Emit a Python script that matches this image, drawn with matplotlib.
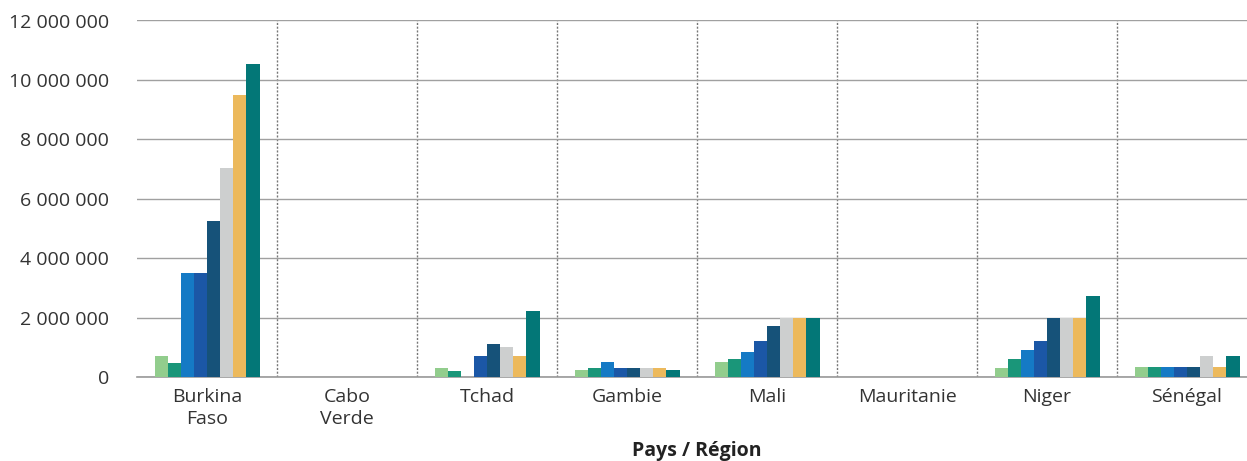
import numpy as np
import matplotlib
matplotlib.use("Agg")
import matplotlib.pyplot as plt
from matplotlib.ticker import FuncFormatter

# Countries / regions on the x axis
pays = ["Burkina\nFaso", "Cabo\nVerde", "Tchad", "Gambie", "Mali",
        "Mauritanie", "Niger", "Sénégal"]

# Eight series per country (0 = no bar)
serie_1 = [720000, 0, 300000, 220000, 500000, 0, 300000, 350000]
serie_2 = [480000, 0, 200000, 300000, 600000, 0, 600000, 350000]
serie_3 = [3500000, 0, 0, 500000, 850000, 0, 920000, 350000]
serie_4 = [3500000, 0, 720000, 300000, 1210000, 0, 1210000, 350000]
serie_5 = [5250000, 0, 1120000, 300000, 1700000, 0, 1980000, 350000]
serie_6 = [7020000, 0, 1000000, 300000, 2000000, 0, 2000000, 720000]
serie_7 = [9500000, 0, 720000, 300000, 1990000, 0, 2000000, 350000]
serie_8 = [10530000, 0, 2230000, 220000, 2000000, 0, 2740000, 720000]

series = [serie_1, serie_2, serie_3, serie_4, serie_5, serie_6, serie_7, serie_8]
couleurs = ["#92CD8D", "#1A9679", "#157AC5", "#1B57A6",
            "#165279", "#CDCFCF", "#ECB95C", "#037777"]

plt.rcParams['font.family'] = ['Open Sans', 'DejaVu Sans']

fig = plt.figure(figsize=(12.47, 4.61), dpi=100)
ax = fig.add_axes([137 / 1247, 1 - 377 / 461, 1120 / 1247, (377 - 20.5) / 461])

x = np.arange(len(pays))
n = len(series)
w = 0.75 / n
for i, (vals, c) in enumerate(zip(series, couleurs)):
    offs = (i - (n - 1) / 2) * w
    ax.bar(x + offs, vals, width=w, color=c, zorder=3, linewidth=0)

ax.set_xlim(-0.5, len(pays) - 0.5)
ax.set_ylim(0, 12000000)
ax.set_yticks(np.arange(0, 12000001, 2000000))
ax.yaxis.set_major_formatter(FuncFormatter(lambda v, p: f"{int(v):,}".replace(",", " ")))

# horizontal grid solid, vertical separators dotted
ax.grid(axis='y', color='#A0A0A0', linewidth=1, zorder=0)
for b in np.arange(0.5, len(pays) - 0.5, 1):
    ax.axvline(b, color='#777777', linestyle=(0, (1.5, 1.2)), linewidth=1, zorder=1)

for s in ['top', 'right', 'left']:
    ax.spines[s].set_visible(False)
ax.spines['bottom'].set_color('#999999')
ax.spines['bottom'].set_linewidth(1.2)

ax.set_xticks(x)
ax.set_xticklabels(pays, fontsize=14, color='#333333', linespacing=1.3)
ax.tick_params(axis='x', length=0, pad=8)
ax.tick_params(axis='y', length=0, pad=20, labelsize=14, labelcolor='#333333')

# axis title placed in figure coords so it stays inside the bottom edge
fig.text(697 / 1247, 1 - 456 / 461, "Pays / Région", fontsize=14, fontweight='bold',
         color='#222222', ha='center', va='baseline')

fig.savefig("out.png", dpi=100)
